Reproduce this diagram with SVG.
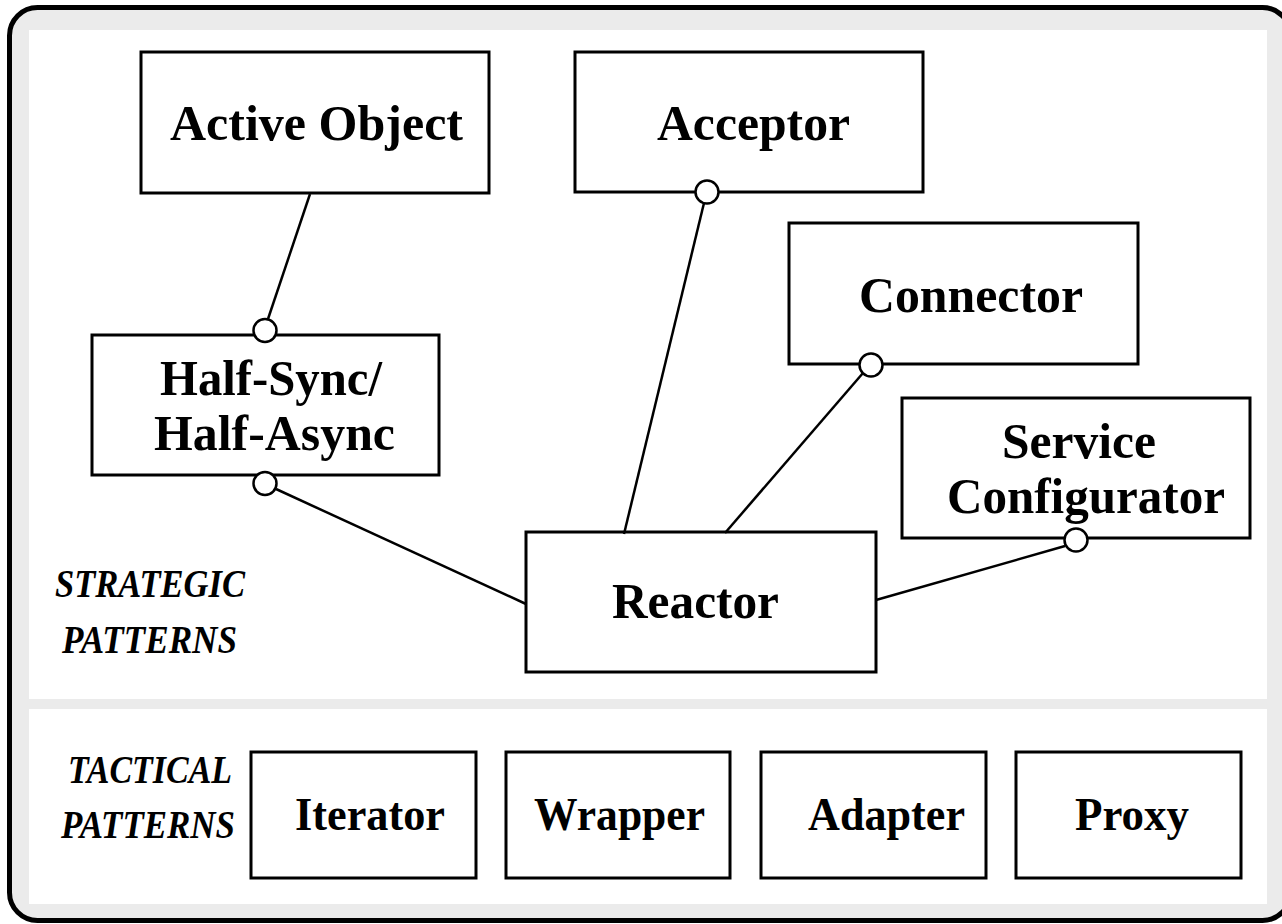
<svg xmlns="http://www.w3.org/2000/svg" width="1282" height="924" viewBox="0 0 1282 924">
  <style>
    .box { fill: #ffffff; stroke: #000000; stroke-width: 3; }
    .lbl { font-family: "Liberation Serif", "Times New Roman", serif; font-weight: bold; font-size: 50px; fill: #000000; }
    .tlbl { font-family: "Liberation Serif", "Times New Roman", serif; font-weight: bold; font-size: 47px; fill: #000000; }
    .cat { font-family: "Liberation Serif", "Times New Roman", serif; font-weight: bold; font-style: italic; font-size: 39px; fill: #000000; }
    .wire { stroke: #000000; stroke-width: 2.5; fill: none; }
    .port { fill: #ffffff; stroke: #000000; stroke-width: 2.5; }
  </style>

  <g id="frame">
    <rect x="9.5" y="7.5" width="1281" height="913" rx="28" ry="28" fill="#ebebeb"/>
    <path d="M 1290.5 35.5 A 28 28 0 0 0 1262.5 7.5 L 37.5 7.5 A 28 28 0 0 0 9.5 35.5 L 9.5 892.5 A 28 28 0 0 0 37.5 920.5 L 1262.5 920.5 A 28 28 0 0 0 1290.5 892.5" fill="none" stroke="#000000" stroke-width="5"/>
    <rect x="29" y="30" width="1238" height="669" fill="#ffffff"/>
    <rect x="29" y="709" width="1238" height="195" fill="#ffffff"/>
  </g>

  <g id="labels">
    <text class="cat" x="55" y="597" textLength="190" lengthAdjust="spacingAndGlyphs">STRATEGIC</text>
    <text class="cat" x="62" y="653" textLength="175" lengthAdjust="spacingAndGlyphs">PATTERNS</text>
    <text class="cat" x="68" y="783" textLength="164" lengthAdjust="spacingAndGlyphs">TACTICAL</text>
    <text class="cat" x="61" y="838" textLength="174" lengthAdjust="spacingAndGlyphs">PATTERNS</text>
  </g>

  <g id="active-object">
    <rect class="box" x="141" y="52" width="348" height="141"/>
    <text class="lbl" x="170" y="140" textLength="293" lengthAdjust="spacingAndGlyphs">Active Object</text>
  </g>
  <g id="acceptor">
    <rect class="box" x="575" y="52" width="348" height="140"/>
    <text class="lbl" x="657" y="140" textLength="193" lengthAdjust="spacingAndGlyphs">Acceptor</text>
  </g>
  <g id="connector">
    <rect class="box" x="789" y="223" width="349" height="141"/>
    <text class="lbl" x="859" y="312" textLength="224" lengthAdjust="spacingAndGlyphs">Connector</text>
  </g>
  <g id="half-sync">
    <rect class="box" x="92" y="335" width="347" height="140"/>
    <text class="lbl" x="160" y="395" textLength="222" lengthAdjust="spacingAndGlyphs">Half-Sync/</text>
    <text class="lbl" x="154" y="450" textLength="241" lengthAdjust="spacingAndGlyphs">Half-Async</text>
  </g>
  <g id="service-configurator">
    <rect class="box" x="902" y="398" width="348" height="140"/>
    <text class="lbl" x="1002" y="458" textLength="154" lengthAdjust="spacingAndGlyphs">Service</text>
    <text class="lbl" x="947" y="513" textLength="278" lengthAdjust="spacingAndGlyphs">Configurator</text>
  </g>
  <g id="reactor">
    <rect class="box" x="526" y="532" width="350" height="140"/>
    <text class="lbl" x="612" y="618" textLength="167" lengthAdjust="spacingAndGlyphs">Reactor</text>
  </g>

  <g id="iterator">
    <rect class="box" x="251" y="752" width="225" height="126"/>
    <text class="tlbl" x="295" y="830" textLength="150" lengthAdjust="spacingAndGlyphs">Iterator</text>
  </g>
  <g id="wrapper">
    <rect class="box" x="506" y="752" width="224" height="126"/>
    <text class="tlbl" x="534" y="830" textLength="171" lengthAdjust="spacingAndGlyphs">Wrapper</text>
  </g>
  <g id="adapter">
    <rect class="box" x="761" y="752" width="225" height="126"/>
    <text class="tlbl" x="808" y="830" textLength="157" lengthAdjust="spacingAndGlyphs">Adapter</text>
  </g>
  <g id="proxy">
    <rect class="box" x="1016" y="752" width="225" height="126"/>
    <text class="tlbl" x="1075" y="830" textLength="114" lengthAdjust="spacingAndGlyphs">Proxy</text>
  </g>

  <g id="connectors">
    <line class="wire" x1="310" y1="194" x2="268" y2="319"/>
    <line class="wire" x1="276" y1="489" x2="526" y2="604"/>
    <line class="wire" x1="704" y1="203" x2="624" y2="534"/>
    <line class="wire" x1="863" y1="373" x2="725" y2="533"/>
    <line class="wire" x1="1065" y1="546" x2="876" y2="600"/>
    <circle class="port" cx="265" cy="330.5" r="11.5"/>
    <circle class="port" cx="265" cy="483.5" r="11.5"/>
    <circle class="port" cx="707" cy="192" r="11.5"/>
    <circle class="port" cx="871" cy="365" r="11.5"/>
    <circle class="port" cx="1076" cy="540" r="11.5"/>
  </g>
</svg>
